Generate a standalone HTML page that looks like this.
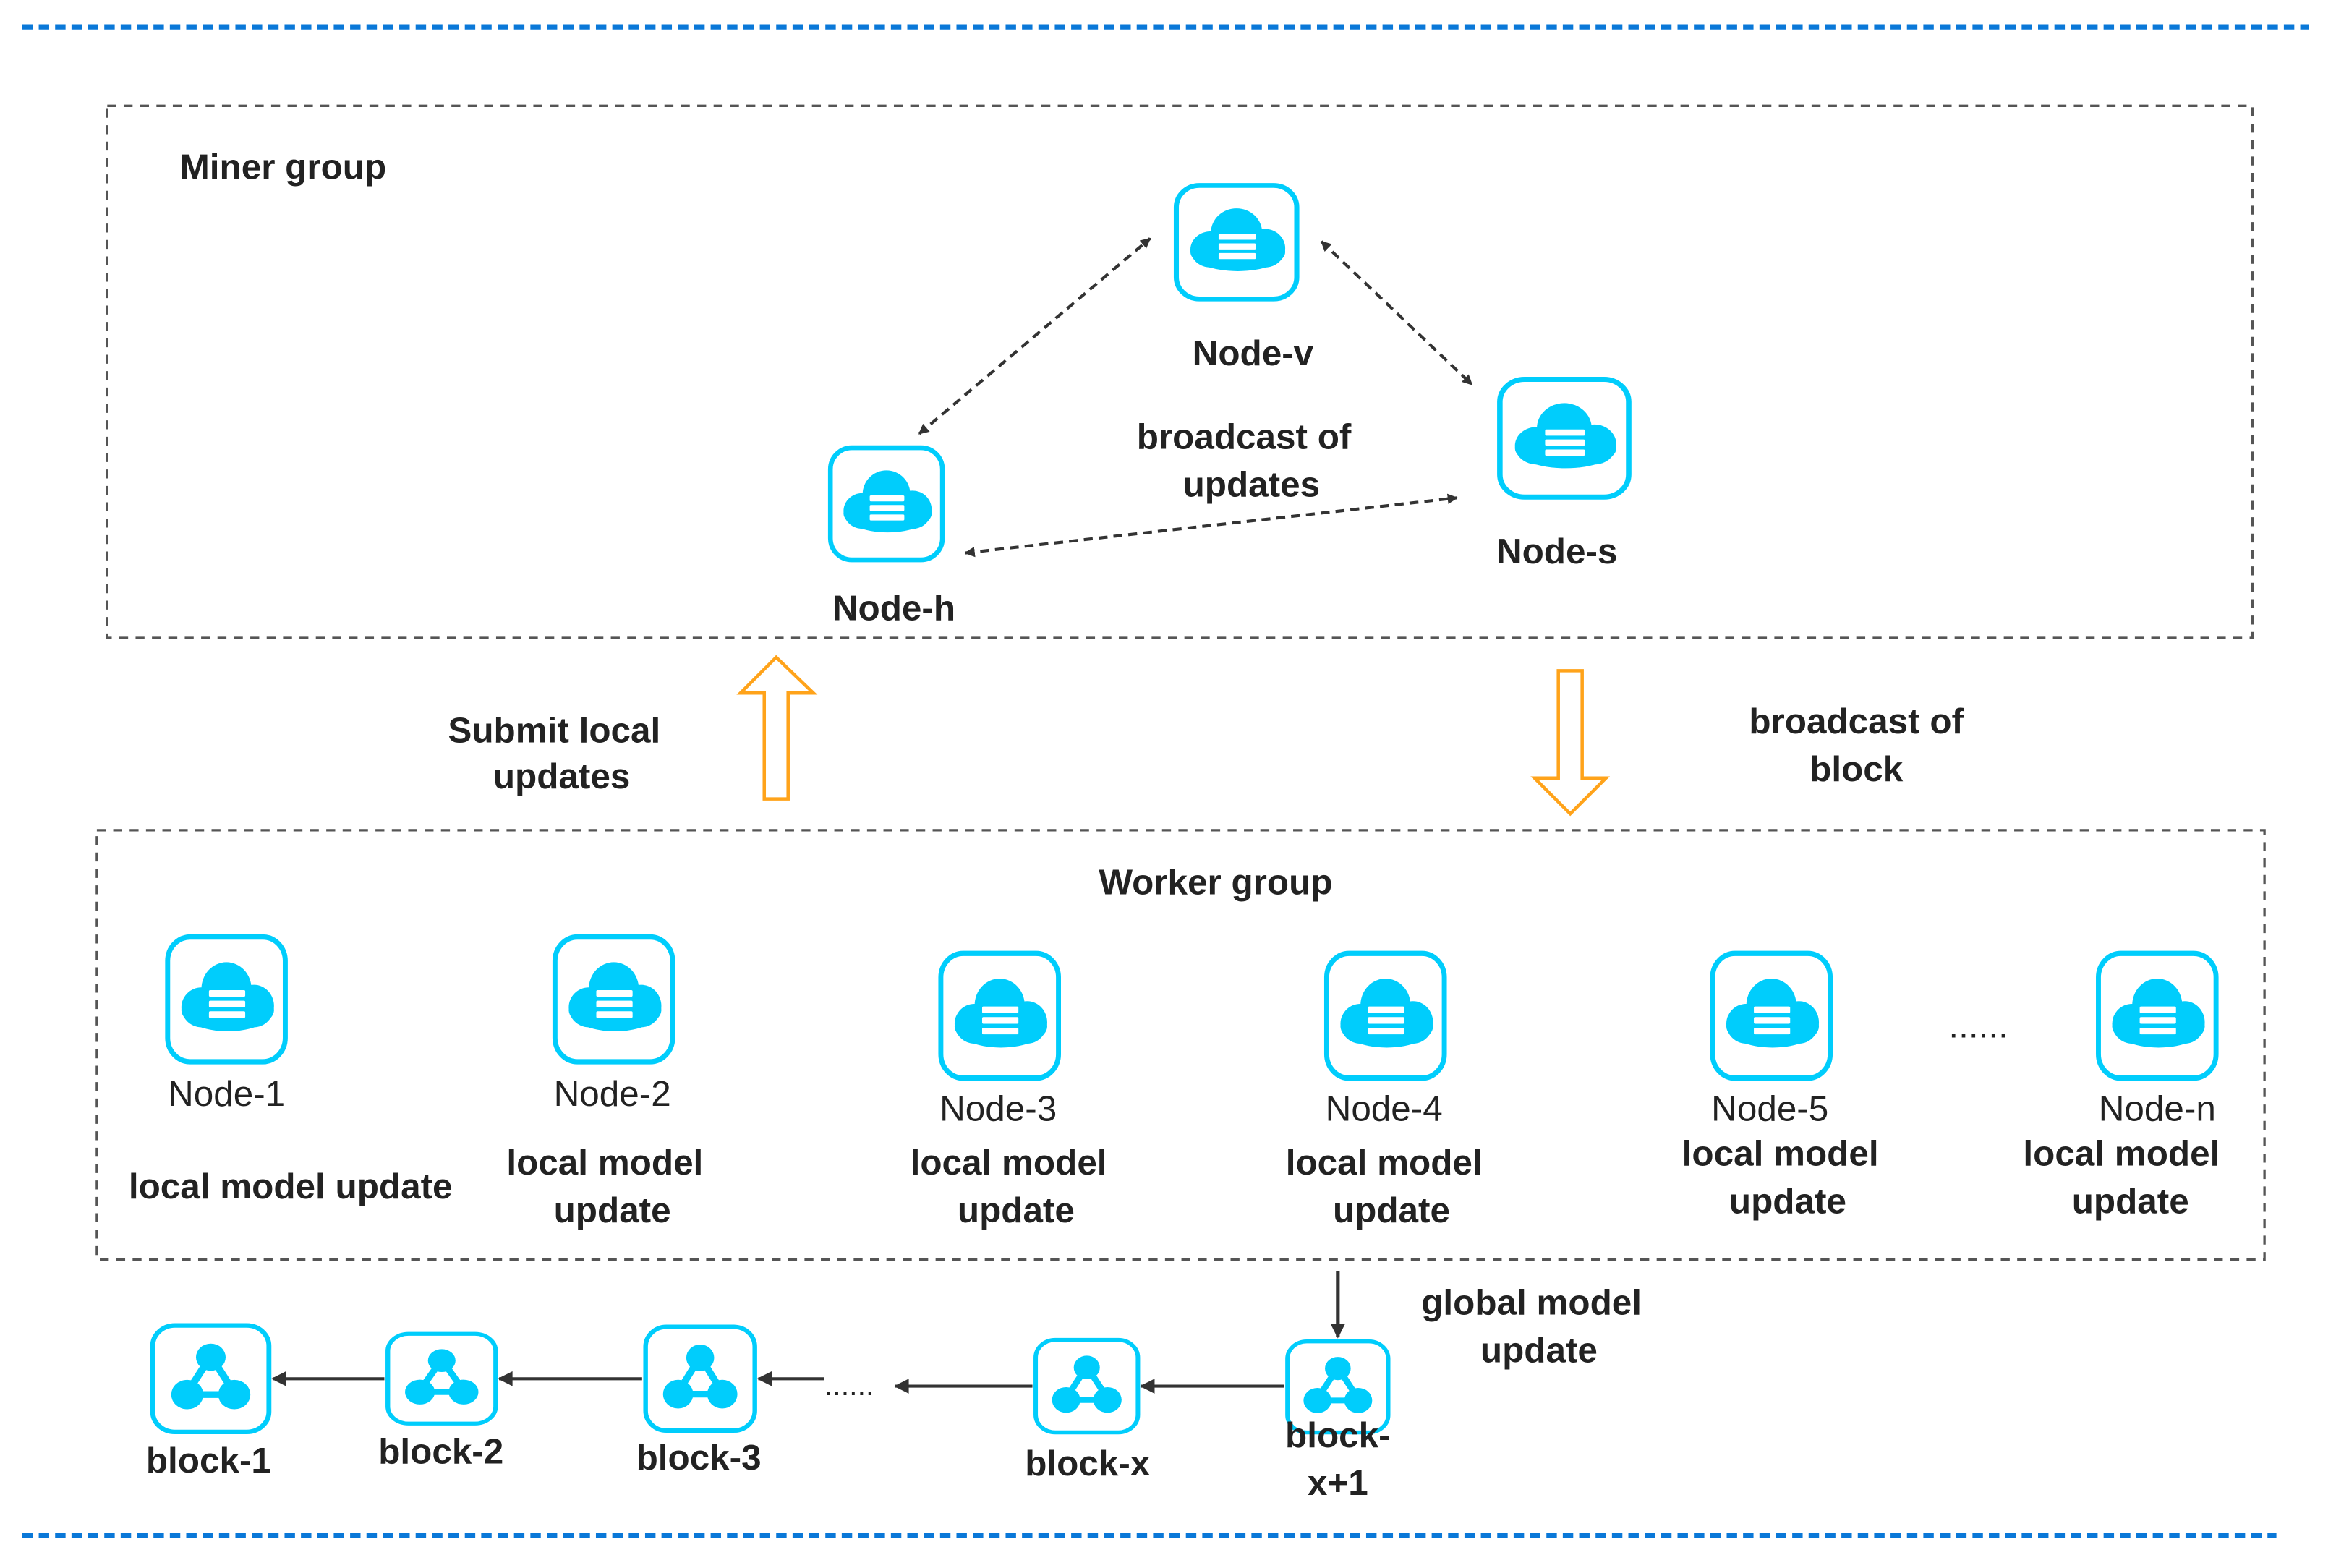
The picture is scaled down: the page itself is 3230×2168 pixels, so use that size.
<!DOCTYPE html>
<html><head><meta charset="utf-8"><style>
html,body{margin:0;padding:0;background:#fff;}
svg{display:block;}
text{font-family:"Liberation Sans",sans-serif;fill:#222;text-anchor:middle;}
.b{font-weight:bold;font-size:24px;}
.n{font-size:24px;}
</style></head><body>
<svg width="3230" height="2168" viewBox="0 0 1568 1052" preserveAspectRatio="none" xmlns="http://www.w3.org/2000/svg">
<defs>
<symbol id="srv" viewBox="0 0 100 100" preserveAspectRatio="none">
<rect x="3" y="3" width="94" height="94" rx="18" fill="#fff" stroke="#00cdfc" stroke-width="4"/>
<circle cx="50" cy="42" r="20" fill="#00cdfc"/>
<ellipse cx="51" cy="58" rx="37" ry="16" fill="#00cdfc"/>
<ellipse cx="30" cy="56" rx="16" ry="15" fill="#00cdfc"/>
<ellipse cx="72" cy="55" rx="16" ry="16" fill="#00cdfc"/>
<rect x="36" y="43" width="29" height="5" rx="1" fill="#fff"/>
<rect x="36" y="51" width="29" height="5" rx="1" fill="#fff"/>
<rect x="36" y="59" width="29" height="5" rx="1" fill="#fff"/>
</symbol>
<symbol id="blk" viewBox="0 0 100 100" preserveAspectRatio="none">
<rect x="3" y="3" width="94" height="94" rx="18" fill="#fff" stroke="#00cdfc" stroke-width="4"/>
<polygon points="50,30 30,64 70,64" fill="none" stroke="#00cdfc" stroke-width="6"/>
<circle cx="50" cy="31" r="12" fill="#00cdfc"/>
<circle cx="31" cy="64" r="13" fill="#00cdfc"/>
<circle cx="69" cy="64" r="13" fill="#00cdfc"/>
</symbol>
<marker id="ah" viewBox="0 0 10 10" refX="9" refY="5" markerWidth="7" markerHeight="7" orient="auto-start-reverse" markerUnits="userSpaceOnUse">
<path d="M0,0 L10,5 L0,10 z" fill="#333"/>
</marker>
<marker id="ah2" viewBox="0 0 10 10" refX="9" refY="5" markerWidth="12" markerHeight="10" orient="auto" markerUnits="userSpaceOnUse">
<path d="M0,0 L10,5 L0,10 z" fill="#333"/>
</marker>
</defs>

<line x1="15" y1="18" x2="1550" y2="18" stroke="#0a78d8" stroke-width="3.5" stroke-dasharray="7,4"/>
<line x1="15" y1="1030" x2="1528" y2="1030" stroke="#0a78d8" stroke-width="3.5" stroke-dasharray="7,4"/>

<rect x="72" y="71" width="1440" height="357" fill="none" stroke="#555" stroke-width="1.6" stroke-dasharray="6,5"/>
<rect x="65" y="557" width="1455" height="288" fill="none" stroke="#555" stroke-width="1.6" stroke-dasharray="6,5"/>

<text class="b" x="190" y="120">Miner group</text>
<text class="b" x="816" y="600">Worker group</text>

<use href="#srv" x="787" y="122" width="86" height="81"/>
<text class="b" x="841" y="245">Node-v</text>
<use href="#srv" x="1004" y="252" width="92" height="84"/>
<text class="b" x="1045" y="378">Node-s</text>
<use href="#srv" x="555" y="298" width="80" height="80"/>
<text class="b" x="600" y="416">Node-h</text>

<line x1="617" y1="291" x2="772" y2="160" stroke="#333" stroke-width="2" stroke-dasharray="6,4" marker-start="url(#ah)" marker-end="url(#ah)"/>
<line x1="887" y1="162" x2="988" y2="258" stroke="#333" stroke-width="2" stroke-dasharray="6,4" marker-start="url(#ah)" marker-end="url(#ah)"/>
<line x1="648" y1="371" x2="978" y2="334" stroke="#333" stroke-width="2" stroke-dasharray="6,4" marker-start="url(#ah)" marker-end="url(#ah)"/>
<text class="b" x="835" y="301">broadcast of</text>
<text class="b" x="840" y="333">updates</text>

<polygon points="513,536 529,536 529,465 546,465 521,441 497,465 513,465" fill="#fff" stroke="#ffa31a" stroke-width="2.2"/>
<polygon points="1046,450 1062,450 1062,522 1078,522 1054,546 1030,522 1046,522" fill="#fff" stroke="#ffa31a" stroke-width="2.2"/>
<text class="b" x="372" y="498">Submit local</text>
<text class="b" x="377" y="529">updates</text>
<text class="b" x="1246" y="492">broadcast of</text>
<text class="b" x="1246" y="524">block</text>

<use href="#srv" x="110" y="626" width="84" height="89"/>
<text class="n" x="152" y="742">Node-1</text>
<text class="b" x="195" y="804">local model update</text>
<use href="#srv" x="370" y="626" width="84" height="89"/>
<text class="n" x="411" y="742">Node-2</text>
<text class="b" x="406" y="788">local model</text>
<text class="b" x="411" y="820">update</text>
<use href="#srv" x="629" y="637" width="84" height="89"/>
<text class="n" x="670" y="752">Node-3</text>
<text class="b" x="677" y="788">local model</text>
<text class="b" x="682" y="820">update</text>
<use href="#srv" x="888" y="637" width="84" height="89"/>
<text class="n" x="929" y="752">Node-4</text>
<text class="b" x="929" y="788">local model</text>
<text class="b" x="934" y="820">update</text>
<use href="#srv" x="1147" y="637" width="84" height="89"/>
<text class="n" x="1188" y="752">Node-5</text>
<text class="b" x="1195" y="782">local model</text>
<text class="b" x="1200" y="814">update</text>
<use href="#srv" x="1406" y="637" width="84" height="89"/>
<text class="n" x="1448" y="752">Node-n</text>
<text class="b" x="1424" y="782">local model</text>
<text class="b" x="1430" y="814">update</text>
<text class="n" x="1328" y="696">......</text>

<line x1="898" y1="853" x2="898" y2="897" stroke="#333" stroke-width="2.5" marker-end="url(#ah2)"/>
<text class="b" x="1028" y="882">global model</text>
<text class="b" x="1033" y="914">update</text>

<use href="#blk" x="100" y="887" width="83" height="76"/>
<text class="b" x="140" y="988">block-1</text>
<use href="#blk" x="258" y="893" width="77" height="64"/>
<text class="b" x="296" y="982">block-2</text>
<use href="#blk" x="431" y="888" width="78" height="74"/>
<text class="b" x="469" y="986">block-3</text>
<use href="#blk" x="693" y="897" width="73" height="66"/>
<text class="b" x="730" y="990">block-x</text>
<use href="#blk" x="862" y="898" width="72" height="65"/>
<text class="b" x="898" y="971">block-</text>
<text class="b" x="898" y="1003">x+1</text>

<line x1="258" y1="925" x2="183" y2="925" stroke="#333" stroke-width="2" marker-end="url(#ah2)"/>
<line x1="431" y1="925" x2="335" y2="925" stroke="#333" stroke-width="2" marker-end="url(#ah2)"/>
<line x1="553" y1="925" x2="509" y2="925" stroke="#333" stroke-width="2" marker-end="url(#ah2)"/>
<text class="n" x="570" y="936" style="font-size:20px">......</text>
<line x1="693" y1="930" x2="601" y2="930" stroke="#333" stroke-width="2" marker-end="url(#ah2)"/>
<line x1="862" y1="930" x2="766" y2="930" stroke="#333" stroke-width="2" marker-end="url(#ah2)"/>
</svg>
</body></html>
